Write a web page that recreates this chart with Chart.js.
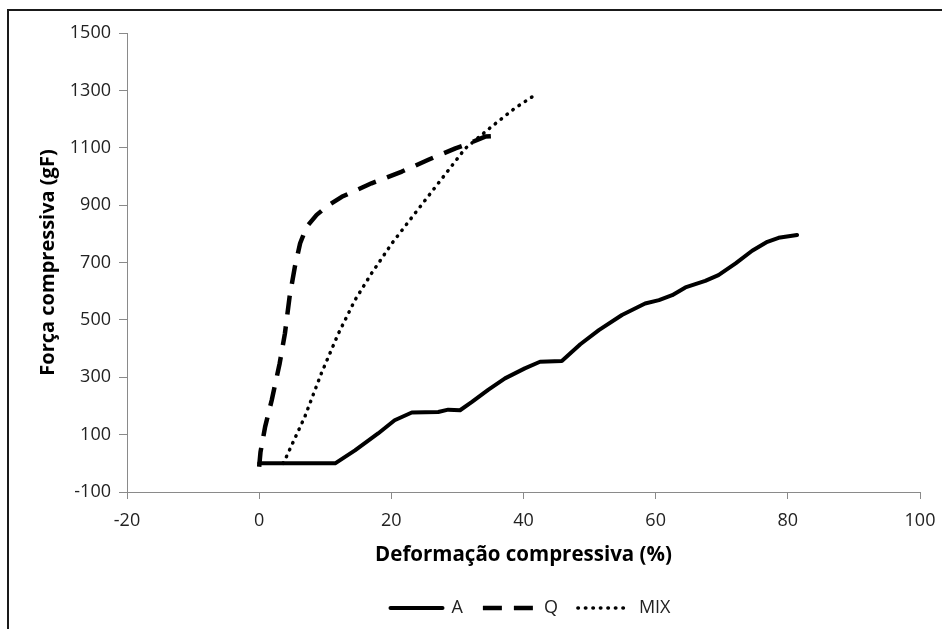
<!DOCTYPE html>
<html>
<head>
<meta charset="utf-8">
<script src="https://cdn.jsdelivr.net/npm/chart.js@4/dist/chart.umd.min.js"></script>
<style>
  html, body { margin: 0; padding: 0; background: #fff; overflow: hidden; }
  #wrap { position: relative; width: 942px; height: 629px; overflow: hidden; }
  #frame { position: absolute; left: 7px; top: 9px; width: 1000px; height: 700px;
           border: 2px solid #1a1a1a; box-sizing: border-box; }
  #c { position: absolute; left: 0; top: 0; }
</style>
</head>
<body>
<div id="wrap">
  <div id="frame"></div>
  <canvas id="c" width="942" height="629"></canvas>
</div>
<script>
// Compression curves: deformation (%) vs. compressive force (gF)
const seriesNames = ['A', 'Q', 'MIX'];

const deformA = [0, 11.5, 14.5, 18, 20.5, 23.1, 27.1, 28.6, 30.4, 32.2, 34.7, 37.2, 40.2, 42.5, 45.8,
                 48.6, 51.4, 54.9, 58.4, 60.5, 62.5, 64.5, 67.5, 69.5, 72.1, 74.6, 76.9, 78.6, 81.4];
const forceA  = [0, 0, 45, 104, 150, 177, 179, 187, 185, 214, 257, 296, 331, 354, 357,
                 415, 464, 517, 557, 569, 586, 613, 636, 656, 697, 741, 772, 786, 796];

const deformQ = [0, 0.2, 0.9, 1.9, 3.1, 3.9, 4.6, 5.4, 6.2, 7.2, 8.7, 10.5, 12.5, 17, 21.6,
                 25.6, 29.7, 31.2, 34.2, 35.5];
const forceQ  = [-12, 39, 127, 220, 348, 453, 580, 685, 767, 825, 866, 900, 929, 976, 1017,
                 1058, 1098, 1110, 1139, 1141];

const deformMIX = [3.6, 4.1, 6.9, 9.4, 12, 14.5, 17, 20.1, 23.6, 27.1, 31.2, 35.2, 38.7, 42];
const forceMIX  = [0, 22, 162, 313, 453, 569, 662, 767, 872, 976, 1098, 1174, 1238, 1288];

// Axis ticks
const xTicks = [-20, 0, 20, 40, 60, 80, 100];
const yTicks = [-100, 100, 300, 500, 700, 900, 1100, 1300, 1500];

const toPoints = (xs, ys) => xs.map((x, i) => ({ x: x, y: ys[i] }));

const FONT = "'Open Sans', 'Liberation Sans', sans-serif";
const AXIS_GREY = '#8a8a8a';
const TEXT = '#222';

// Centre the legend under the plot area rather than the whole canvas
const legendUnderPlot = {
  id: 'legendUnderPlot',
  afterLayout(chart) {
    const lg = chart.legend;
    if (!lg) return;
    lg.left = chart.chartArea.left + 7;
    lg.right = chart.chartArea.right + 7;
    lg.top -= 2;
    lg.bottom -= 2;
  }
};

new Chart(document.getElementById('c'), {
  type: 'line',
  data: {
    datasets: [
      {
        label: seriesNames[0],
        data: toPoints(deformA, forceA),
        borderColor: '#000',
        backgroundColor: '#000',
        borderWidth: 4,
        borderDash: [],
        borderCapStyle: 'round',
        borderJoinStyle: 'round',
        pointRadius: 0,
        tension: 0
      },
      {
        label: seriesNames[1],
        data: toPoints(deformQ, forceQ),
        borderColor: '#000',
        backgroundColor: '#000',
        borderWidth: 4.5,
        borderDash: [19, 12],
        borderCapStyle: 'butt',
        borderJoinStyle: 'round',
        pointRadius: 0,
        tension: 0
      },
      {
        label: seriesNames[2],
        data: toPoints(deformMIX, forceMIX),
        borderColor: '#000',
        backgroundColor: '#000',
        borderWidth: 3.5,
        borderDash: [0.5, 7],
        borderCapStyle: 'round',
        borderJoinStyle: 'round',
        pointRadius: 0,
        tension: 0
      }
    ]
  },
  options: {
    responsive: false,
    animation: false,
    events: [],
    layout: { padding: { top: 33, right: 22, left: 0, bottom: 0 } },
    plugins: {
      tooltip: { enabled: false },
      legend: {
        display: true,
        position: 'bottom',
        maxHeight: 52,
        labels: {
          usePointStyle: true,
          pointStyleWidth: 52,
          boxHeight: 18,
          padding: 20,
          color: TEXT,
          font: { family: FONT, size: 18 },
          generateLabels(chart) {
            return chart.data.datasets.map((ds, i) => ({
              text: ds.label,
              fillStyle: ds.borderColor,
              strokeStyle: ds.borderColor,
              lineWidth: ds.borderWidth,
              lineDash: ds.borderDash,
              lineCap: ds.borderCapStyle,
              lineJoin: 'round',
              pointStyle: 'line',
              fontColor: TEXT,
              hidden: false,
              datasetIndex: i
            }));
          }
        }
      }
    },
    scales: {
      x: {
        type: 'linear',
        min: xTicks[0],
        max: xTicks[xTicks.length - 1],
        afterBuildTicks(scale) { scale.ticks = xTicks.map(v => ({ value: v })); },
        afterFit(scale) {
          scale.height = 89;
          scale.paddingLeft = 0;
          scale.paddingRight = 0;
        },
        ticks: { color: TEXT, font: { family: FONT, size: 18 }, padding: 11, maxRotation: 0,
                 callback: v => String(v) },
        grid: { display: true, drawOnChartArea: false, drawTicks: true, tickLength: 7, color: AXIS_GREY, lineWidth: 1 },
        border: { display: true, color: AXIS_GREY, width: 1 },
        title: {
          display: true,
          text: 'Deformação compressiva (%)',
          color: '#000',
          font: { family: FONT, size: 20.5, weight: 'bold' },
          padding: { top: 0, bottom: 14 }
        }
      },
      y: {
        type: 'linear',
        min: yTicks[0],
        max: yTicks[yTicks.length - 1],
        afterBuildTicks(scale) { scale.ticks = yTicks.map(v => ({ value: v })); },
        afterFit(scale) {
          scale.width = 127;
          scale.paddingTop = 0;
          scale.paddingBottom = 0;
        },
        ticks: { color: TEXT, font: { family: FONT, size: 18 }, padding: 8,
                 callback: v => String(v) },
        grid: { display: true, drawOnChartArea: false, drawTicks: true, tickLength: 8, color: AXIS_GREY, lineWidth: 1 },
        border: { display: true, color: AXIS_GREY, width: 1 },
        title: {
          display: true,
          text: 'Força compressiva (gF)',
          color: '#000',
          font: { family: FONT, size: 20, weight: 'bold' },
          padding: { top: 36, bottom: 0 }
        }
      }
    }
  },
  plugins: [legendUnderPlot]
});
</script>
</body>
</html>
